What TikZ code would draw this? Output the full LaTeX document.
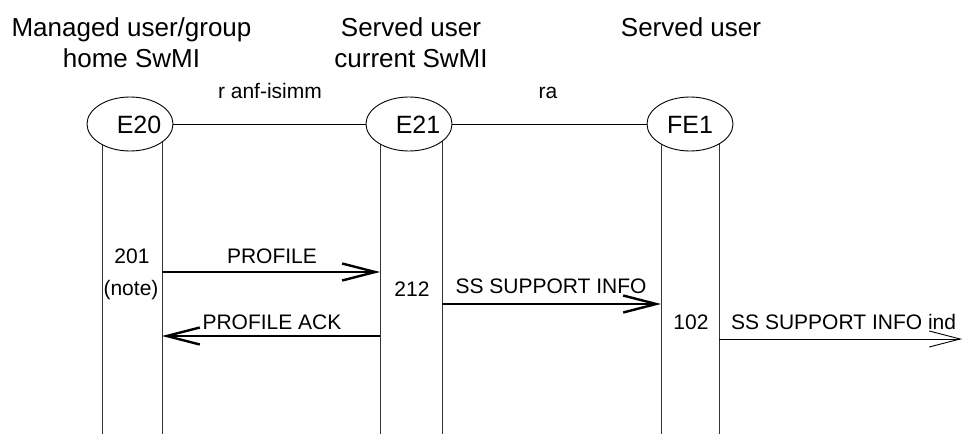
\documentclass[tikz,border=0pt]{standalone}
\usepackage{fontspec}
\setmainfont{Liberation Sans}
\usetikzlibrary{arrows.meta,backgrounds,shapes.geometric}
\begin{document}
\begin{tikzpicture}[x=1pt,y=-1pt,
  hdr/.style={font=\fontsize{26}{31}\selectfont, anchor=base, inner sep=0pt},
  ent/.style={draw, ellipse, fill=white, minimum width=86pt, minimum height=54pt, inner sep=0pt, line width=0.9pt},
  entlbl/.style={font=\fontsize{25}{29}\selectfont, anchor=base, inner sep=0pt},
  lbl/.style={font=\fontsize{21}{25}\selectfont, anchor=base, inner sep=0pt},
  life/.style={line width=1pt, draw=black!80},
  link/.style={line width=1pt},
  msg/.style={line width=2.4pt, -{Straight Barb[length=33pt,width=17pt,line width=2.4pt]}},
  msgthin/.style={line width=0.9pt, -{Straight Barb[length=31pt,width=16pt,line width=0.9pt]}}
]
\useasboundingbox (0,0) rectangle (962,434);
% headers
\node[hdr] (h1a) at (131.5,36) {Managed user/group};
\node[hdr] (h1b) at (131.5,67) {home SwMI};
\node[hdr] (h2a) at (411,36) {Served user};
\node[hdr] (h2b) at (411,67) {current SwMI};
\node[hdr] (h3a) at (691,36) {Served user};
% entities
\node[ent] (E20) at (130,124) {};
\node[ent] (E21) at (409,124) {};
\node[ent] (FE1) at (690,124) {};
\node[entlbl] (E20t) at (139,133) {E20};
\node[entlbl] (E21t) at (418,133) {E21};
\node[entlbl] (FE1t) at (690,133) {FE1};
\draw[link] (E20) -- (E21);
\draw[link] (E21) -- (FE1);
\node[lbl] (ranf) at (270,98) {r anf-isimm};
\node[lbl] (ra) at (548,98) {ra};
% lifelines
\coordinate (a1t) at (102,124); \coordinate (a1b) at (102,434);
\coordinate (a2t) at (162,124); \coordinate (a2b) at (162,434);
\coordinate (b1t) at (380,124); \coordinate (b1b) at (380,434);
\coordinate (b2t) at (442,124); \coordinate (b2b) at (442,434);
\coordinate (c1t) at (661,124); \coordinate (c1b) at (661,434);
\coordinate (c2t) at (719,124); \coordinate (c2b) at (719,434);
\begin{scope}[on background layer]
\draw[life] (a1t) -- (a1b);
\draw[life] (a2t) -- (a2b);
\draw[life] (b1t) -- (b1b);
\draw[life] (b2t) -- (b2b);
\draw[life] (c1t) -- (c1b);
\draw[life] (c2t) -- (c2b);
\end{scope}
% state labels
\node[lbl] (s201) at (132,263) {201};
\node[lbl] (snote) at (131,295) {(note)};
\node[lbl] (s212) at (412,296) {212};
\node[lbl] (s102) at (691,329) {102};
% messages
\coordinate (m1s) at (162,272); \coordinate (m1e) at (380,272);
\coordinate (m2s) at (380,336); \coordinate (m2e) at (162,336);
\coordinate (m3s) at (442,304); \coordinate (m3e) at (661,304);
\coordinate (m4s) at (719,339); \coordinate (m4e) at (962,339);
\draw[msg] (m1s) -- (m1e);
\draw[msg] (m2s) -- (m2e);
\draw[msg] (m3s) -- (m3e);
\draw[msgthin] (m4s) -- (m4e);
\node[lbl] (t1) at (272,263) {PROFILE};
\node[lbl] (t2) at (272,329) {PROFILE ACK};
\node[lbl] (t3) at (551,293) {SS SUPPORT INFO};
\node[lbl, anchor=base west] (t4) at (731,329) {SS SUPPORT INFO ind};
\end{tikzpicture}
\end{document}
